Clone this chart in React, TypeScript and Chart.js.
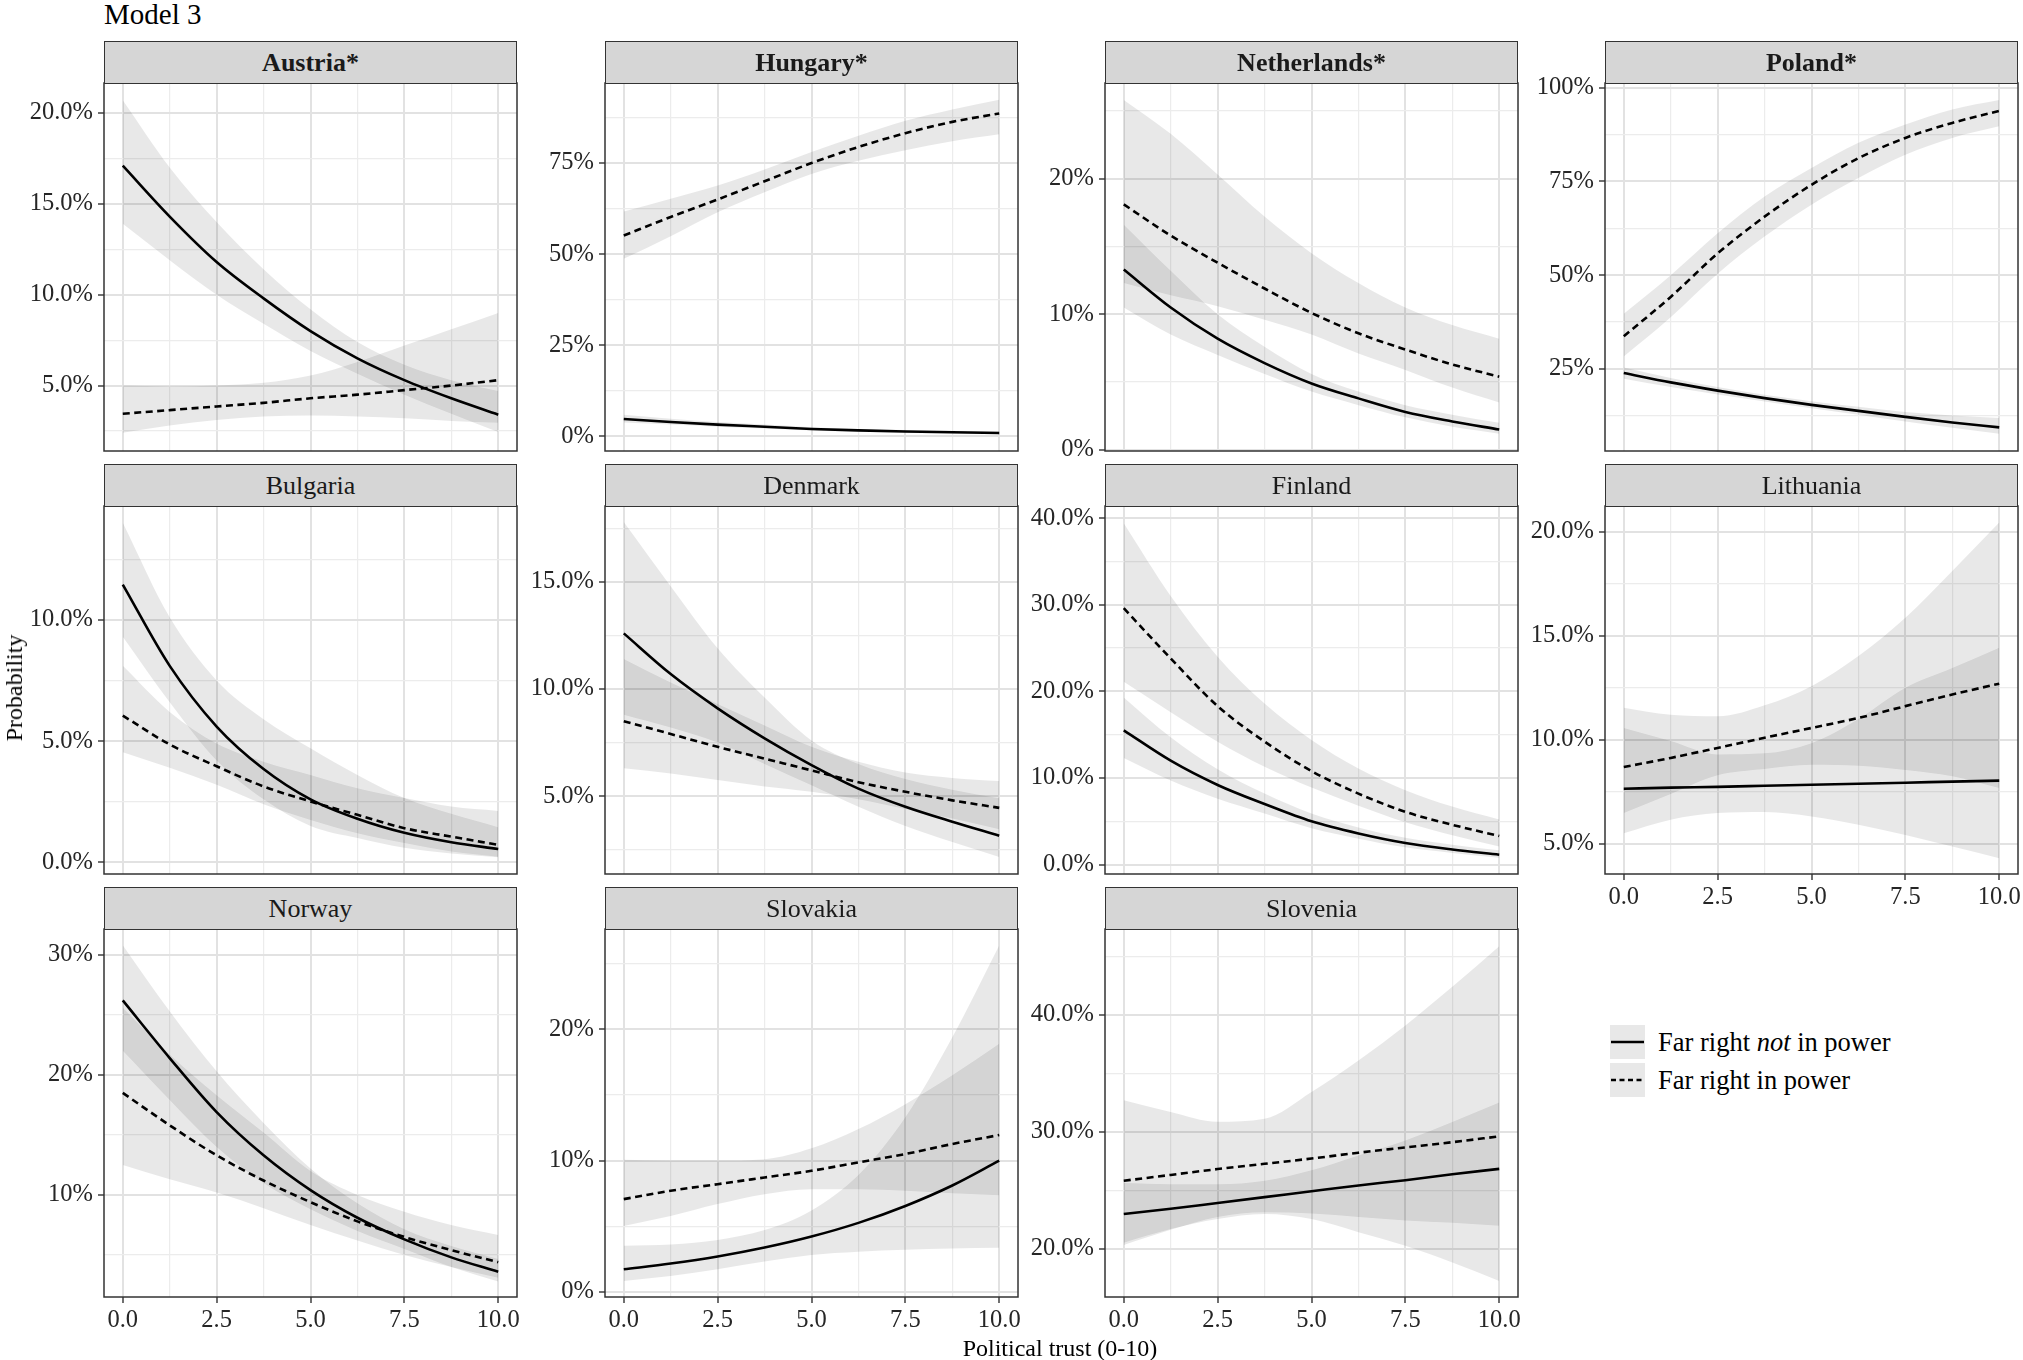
import React, { useEffect, useRef } from "react";
import { Chart, registerables } from "chart.js";
Chart.register(...registerables);

// ---------- data (probabilities in %) ----------
const trust = [0, 1.25, 2.5, 3.75, 5, 6.25, 7.5, 8.75, 10];
const xMajorTicks = [0, 2.5, 5, 7.5, 10];
const xTickLabels = ["0.0", "2.5", "5.0", "7.5", "10.0"];

const austriaTicks = [5, 10, 15, 20];
const austriaNotFit = [17.1, 14.3, 11.8, 9.8, 8.0, 6.5, 5.3, 4.3, 3.4];
const austriaNotLo = [13.9, 11.9, 10.0, 8.4, 6.9, 5.65, 4.5, 3.45, 2.45];
const austriaNotHi = [20.7, 17.0, 14.0, 11.4, 9.2, 7.4, 6.15, 5.3, 4.7];
const austriaInFit = [3.45, 3.65, 3.85, 4.05, 4.3, 4.5, 4.75, 5.0, 5.3];
const austriaInLo = [2.4, 2.8, 3.1, 3.3, 3.35, 3.3, 3.2, 3.05, 2.95];
const austriaInHi = [5.0, 4.95, 5.0, 5.15, 5.55, 6.3, 7.2, 8.1, 9.0];

const hungaryTicks = [0, 25, 50, 75];
const hungaryNotFit = [4.75, 3.9, 3.2, 2.6, 2.0, 1.6, 1.3, 1.1, 0.9];
const hungaryNotLo = [3.8, 3.2, 2.6, 2.1, 1.6, 1.25, 0.95, 0.75, 0.6];
const hungaryNotHi = [5.9, 4.8, 3.9, 3.2, 2.5, 2.0, 1.7, 1.5, 1.3];
const hungaryInFit = [55.1, 60.2, 65.0, 70.0, 75.0, 79.4, 83.2, 86.3, 88.6];
const hungaryInLo = [48.7, 54.9, 61.5, 67.0, 72.0, 75.6, 78.5, 81.0, 82.9];
const hungaryInHi = [61.7, 65.2, 68.8, 73.2, 78.0, 82.5, 86.6, 89.7, 92.4];

const netherlandsTicks = [0, 10, 20];
const netherlandsNotFit = [13.3, 10.5, 8.2, 6.4, 4.9, 3.8, 2.8, 2.1, 1.5];
const netherlandsNotLo = [10.5, 8.5, 7.0, 5.6, 4.3, 3.3, 2.4, 1.7, 1.2];
const netherlandsNotHi = [16.6, 13.2, 10.0, 7.6, 5.6, 4.3, 3.3, 2.6, 2.0];
const netherlandsInFit = [18.1, 15.8, 13.8, 11.9, 10.1, 8.6, 7.4, 6.3, 5.4];
const netherlandsInLo = [12.3, 11.4, 10.6, 9.6, 8.5, 7.1, 5.9, 4.6, 3.5];
const netherlandsInHi = [25.8, 23.3, 20.3, 17.2, 14.5, 12.3, 10.5, 9.2, 8.2];

const polandTicks = [25, 50, 75, 100];
const polandNotFit = [23.9, 21.4, 19.2, 17.2, 15.4, 13.8, 12.2, 10.7, 9.4];
const polandNotLo = [22.4, 20.2, 18.2, 16.3, 14.5, 12.8, 11.0, 9.3, 7.7];
const polandNotHi = [25.4, 22.6, 20.2, 18.1, 16.4, 14.9, 13.5, 12.6, 11.9];
const polandInFit = [33.7, 44.2, 55.8, 65.6, 74.1, 81.2, 86.6, 90.6, 93.8];
const polandInLo = [28.3, 38.8, 50.4, 60.3, 68.8, 75.9, 82.1, 86.6, 89.7];
const polandInHi = [39.7, 50.0, 61.2, 71.0, 78.6, 85.3, 90.2, 94.2, 96.7];

const bulgariaTicks = [0, 5, 10];
const bulgariaNotFit = [11.45, 8.1, 5.6, 3.85, 2.6, 1.8, 1.22, 0.83, 0.55];
const bulgariaNotLo = [9.3, 6.6, 4.2, 2.6, 1.5, 1.0, 0.6, 0.37, 0.21];
const bulgariaNotHi = [14.0, 10.1, 7.5, 5.9, 4.7, 3.6, 2.65, 2.0, 1.45];
const bulgariaInFit = [6.05, 4.86, 3.96, 3.13, 2.51, 1.96, 1.41, 1.06, 0.72];
const bulgariaInLo = [4.54, 3.9, 3.2, 2.4, 1.75, 1.2, 0.8, 0.45, 0.23];
const bulgariaInHi = [8.1, 6.2, 4.9, 4.15, 3.6, 3.05, 2.65, 2.3, 2.12];

const denmarkTicks = [5, 10, 15];
const denmarkNotFit = [12.6, 10.7, 9.1, 7.7, 6.45, 5.35, 4.5, 3.8, 3.15];
const denmarkNotLo = [8.8, 8.2, 7.5, 6.5, 5.5, 4.5, 3.6, 2.85, 2.15];
const denmarkNotHi = [17.8, 14.8, 11.9, 9.6, 7.6, 6.5, 5.8, 5.3, 4.9];
const denmarkInFit = [8.5, 7.9, 7.3, 6.75, 6.2, 5.65, 5.2, 4.8, 4.45];
const denmarkInLo = [6.3, 6.05, 5.75, 5.45, 5.2, 4.85, 4.4, 3.95, 3.45];
const denmarkInHi = [11.4, 10.3, 9.3, 8.3, 7.3, 6.6, 6.1, 5.85, 5.7];

const finlandTicks = [0, 10, 20, 30, 40];
const finlandNotFit = [15.5, 12.0, 9.2, 7.0, 5.0, 3.6, 2.5, 1.75, 1.15];
const finlandNotLo = [12.3, 9.7, 7.6, 5.9, 4.2, 3.0, 2.0, 1.35, 0.8];
const finlandNotHi = [19.3, 14.7, 11.0, 8.2, 5.9, 4.3, 3.1, 2.3, 1.65];
const finlandInFit = [29.6, 23.8, 18.3, 14.2, 10.8, 8.2, 6.1, 4.6, 3.3];
const finlandInLo = [21.1, 17.6, 14.2, 11.3, 8.9, 6.8, 4.9, 3.4, 2.1];
const finlandInHi = [39.4, 31.0, 24.0, 18.6, 14.4, 11.1, 8.6, 6.7, 5.2];

const lithuaniaTicks = [5, 10, 15, 20];
const lithuaniaNotFit = [7.65, 7.7, 7.74, 7.79, 7.84, 7.89, 7.94, 7.99, 8.04];
const lithuaniaNotLo = [5.51, 6.16, 6.48, 6.53, 6.32, 5.92, 5.43, 4.87, 4.31];
const lithuaniaNotHi = [10.57, 9.94, 9.3, 9.35, 9.84, 11.0, 12.5, 13.45, 14.43];
const lithuaniaInFit = [8.69, 9.13, 9.61, 10.1, 10.57, 11.05, 11.62, 12.18, 12.7];
const lithuaniaInLo = [6.48, 7.4, 8.3, 8.6, 8.8, 8.75, 8.55, 8.25, 7.68];
const lithuaniaInHi = [11.54, 11.2, 11.13, 11.66, 12.58, 14.03, 15.87, 18.12, 20.45];

const norwayTicks = [10, 20, 30];
const norwayNotFit = [26.2, 21.4, 16.9, 13.3, 10.4, 8.1, 6.3, 4.8, 3.6];
const norwayNotLo = [22.0, 17.9, 14.0, 11.0, 8.8, 7.0, 5.5, 4.0, 2.8];
const norwayNotHi = [30.8, 25.3, 20.3, 16.0, 12.2, 9.3, 7.15, 5.75, 4.67];
const norwayInFit = [18.5, 15.8, 13.3, 11.2, 9.4, 7.8, 6.5, 5.4, 4.4];
const norwayInLo = [12.5, 11.3, 10.2, 8.9, 7.5, 6.2, 5.0, 4.0, 3.1];
const norwayInHi = [25.6, 21.7, 18.3, 15.2, 12.0, 10.0, 8.6, 7.5, 6.67];

const slovakiaTicks = [0, 10, 20];
const slovakiaNotFit = [1.71, 2.15, 2.69, 3.37, 4.21, 5.25, 6.54, 8.1, 9.99];
const slovakiaNotLo = [0.82, 1.2, 1.71, 2.3, 2.8, 3.05, 3.2, 3.3, 3.36];
const slovakiaNotHi = [3.5, 3.6, 3.95, 4.7, 6.2, 8.9, 13.3, 19.4, 26.4];
const slovakiaInFit = [7.06, 7.7, 8.2, 8.71, 9.22, 9.86, 10.5, 11.26, 11.95];
const slovakiaInLo = [5.02, 5.78, 6.68, 7.44, 7.82, 7.82, 7.7, 7.5, 7.36];
const slovakiaInHi = [10.06, 10.0, 10.0, 10.1, 10.93, 12.4, 14.3, 16.5, 18.9];

const sloveniaTicks = [20, 30, 40];
const sloveniaNotFit = [22.95, 23.4, 23.9, 24.4, 24.9, 25.4, 25.85, 26.35, 26.82];
const sloveniaNotLo = [20.3, 21.6, 22.7, 23.1, 23.0, 22.7, 22.4, 22.2, 21.95];
const sloveniaNotHi = [25.6, 25.5, 25.5, 25.8, 26.7, 27.97, 29.25, 30.83, 32.5];
const sloveniaInFit = [25.8, 26.3, 26.8, 27.25, 27.7, 28.2, 28.65, 29.1, 29.6];
const sloveniaInLo = [20.5, 21.66, 22.52, 22.95, 22.52, 21.4, 20.23, 18.8, 17.22];
const sloveniaInHi = [32.69, 31.69, 30.85, 31.1, 33.4, 36.1, 39.1, 42.4, 45.87];

// ---------- panel table ----------
const panels = [
  { name: "Austria*", bold: true, row: 0, col: 0, yMin: 1.4, yMax: 21.65, yTicks: austriaTicks, dec: 1, xAxis: false,
    notFit: austriaNotFit, notLo: austriaNotLo, notHi: austriaNotHi, inFit: austriaInFit, inLo: austriaInLo, inHi: austriaInHi },
  { name: "Hungary*", bold: true, row: 0, col: 1, yMin: -4.05, yMax: 96.97, yTicks: hungaryTicks, dec: 0, xAxis: false,
    notFit: hungaryNotFit, notLo: hungaryNotLo, notHi: hungaryNotHi, inFit: hungaryInFit, inLo: hungaryInLo, inHi: hungaryInHi },
  { name: "Netherlands*", bold: true, row: 0, col: 2, yMin: -0.08, yMax: 27.05, yTicks: netherlandsTicks, dec: 0, xAxis: false,
    notFit: netherlandsNotFit, notLo: netherlandsNotLo, notHi: netherlandsNotHi, inFit: netherlandsInFit, inLo: netherlandsInLo, inHi: netherlandsInHi },
  { name: "Poland*", bold: true, row: 0, col: 3, yMin: 3.1, yMax: 101.25, yTicks: polandTicks, dec: 0, xAxis: false,
    notFit: polandNotFit, notLo: polandNotLo, notHi: polandNotHi, inFit: polandInFit, inLo: polandInLo, inHi: polandInHi },
  { name: "Bulgaria", bold: false, row: 1, col: 0, yMin: -0.48, yMax: 14.69, yTicks: bulgariaTicks, dec: 1, xAxis: false,
    notFit: bulgariaNotFit, notLo: bulgariaNotLo, notHi: bulgariaNotHi, inFit: bulgariaInFit, inLo: bulgariaInLo, inHi: bulgariaInHi },
  { name: "Denmark", bold: false, row: 1, col: 1, yMin: 1.36, yMax: 18.55, yTicks: denmarkTicks, dec: 1, xAxis: false,
    notFit: denmarkNotFit, notLo: denmarkNotLo, notHi: denmarkNotHi, inFit: denmarkInFit, inLo: denmarkInLo, inHi: denmarkInHi },
  { name: "Finland", bold: false, row: 1, col: 2, yMin: -1.08, yMax: 41.4, yTicks: finlandTicks, dec: 1, xAxis: false,
    notFit: finlandNotFit, notLo: finlandNotLo, notHi: finlandNotHi, inFit: finlandInFit, inLo: finlandInLo, inHi: finlandInHi },
  { name: "Lithuania", bold: false, row: 1, col: 3, yMin: 3.55, yMax: 21.24, yTicks: lithuaniaTicks, dec: 1, xAxis: true,
    notFit: lithuaniaNotFit, notLo: lithuaniaNotLo, notHi: lithuaniaNotHi, inFit: lithuaniaInFit, inLo: lithuaniaInLo, inHi: lithuaniaInHi },
  { name: "Norway", bold: false, row: 2, col: 0, yMin: 1.5, yMax: 32.15, yTicks: norwayTicks, dec: 0, xAxis: true,
    notFit: norwayNotFit, notLo: norwayNotLo, notHi: norwayNotHi, inFit: norwayInFit, inLo: norwayInLo, inHi: norwayInHi },
  { name: "Slovakia", bold: false, row: 2, col: 1, yMin: -0.4, yMax: 27.65, yTicks: slovakiaTicks, dec: 0, xAxis: true,
    notFit: slovakiaNotFit, notLo: slovakiaNotLo, notHi: slovakiaNotHi, inFit: slovakiaInFit, inLo: slovakiaInLo, inHi: slovakiaInHi },
  { name: "Slovenia", bold: false, row: 2, col: 2, yMin: 15.85, yMax: 47.35, yTicks: sloveniaTicks, dec: 1, xAxis: true,
    notFit: sloveniaNotFit, notLo: sloveniaNotLo, notHi: sloveniaNotHi, inFit: sloveniaInFit, inLo: sloveniaInLo, inHi: sloveniaInHi },
];

// ---------- layout / style ----------
const FONT = '"Liberation Serif", "Times New Roman", serif';
const COL_LEFT = [104, 605, 1105, 1605];
const ROW_TOP = [41, 464, 887];
const STRIP_H = 42;
const PLOT_W = 413;
const PLOT_H = 368;
const Y_AXIS_W = 88;
const X_AXIS_H = 40;
const PAD = 14;
const BAND = "rgba(0,0,0,0.09)";
const MAJOR_GRID = "#E2E2E2";
const MINOR_GRID = "#ECECEC";
const TEXT = "#262626";
const TICK_FONT = 24.5;

function makeTicks(majors: number[], min: number, max: number) {
  const step = majors[1] - majors[0];
  const out: any[] = [];
  const last = majors[majors.length - 1] + step / 2 + 1e-9;
  for (let v = majors[0] - step / 2; v <= last; v += step / 2) {
    if (v >= min && v <= max) {
      const isMinor = !majors.some((m) => Math.abs(m - v) < 1e-9);
      out.push({ value: v, isMinor });
    }
  }
  return out;
}

const frame = {
  id: "frame",
  afterDraw(chart: any) {
    const { ctx, chartArea: a } = chart;
    ctx.save();
    ctx.strokeStyle = "#333333";
    ctx.lineWidth = 1.5;
    ctx.strokeRect(a.left, a.top, a.right - a.left, a.bottom - a.top);
    ctx.restore();
  },
};

function gridOpts(drawTicks: boolean) {
  return {
    color: (c: any) => (c.tick && c.tick.isMinor ? MINOR_GRID : MAJOR_GRID),
    lineWidth: (c: any) => (c.tick && c.tick.isMinor ? 1.2 : 2),
    drawTicks,
    tickLength: 6,
    tickColor: (c: any) => (c.tick && c.tick.isMinor ? "rgba(0,0,0,0)" : "#333333"),
    tickWidth: 1.4,
  };
}

function PanelChart({ p }: { p: any }) {
  const ref = useRef<HTMLCanvasElement>(null);
  useEffect(() => {
    const pts = (arr: number[]) => trust.map((x, i) => ({ x, y: arr[i] }));
    const edge = {
      borderColor: "rgba(0,0,0,0)",
      borderWidth: 0,
      pointRadius: 0,
      cubicInterpolationMode: "monotone",
    };
    const chart = new Chart(ref.current as HTMLCanvasElement, {
      type: "line",
      data: {
        datasets: [
          { label: "Far right not in power", data: pts(p.notFit), borderColor: "#000", borderWidth: 2.6,
            pointRadius: 0, cubicInterpolationMode: "monotone", fill: false },
          { label: "Far right in power", data: pts(p.inFit), borderColor: "#000", borderWidth: 2.6, borderDash: [7, 4.5],
            pointRadius: 0, cubicInterpolationMode: "monotone", fill: false },
          { ...edge, data: pts(p.notLo), fill: false },
          { ...edge, data: pts(p.notHi), fill: 2, backgroundColor: BAND },
          { ...edge, data: pts(p.inLo), fill: false },
          { ...edge, data: pts(p.inHi), fill: 4, backgroundColor: BAND },
        ] as any,
      },
      options: {
        responsive: false,
        animation: false,
        events: [],
        layout: { padding: { top: PAD, right: PAD, bottom: p.xAxis ? 0 : PAD, left: 0 } },
        plugins: { legend: { display: false }, tooltip: { enabled: false } },
        scales: {
          x: {
            type: "linear",
            min: -0.5,
            max: 10.5,
            afterBuildTicks: (s: any) => { s.ticks = makeTicks(xMajorTicks, -0.5, 10.5); },
            afterFit: (s: any) => { s.height = p.xAxis ? X_AXIS_H : 0; s.paddingLeft = 0; s.paddingRight = 0; },
            grid: gridOpts(p.xAxis),
            border: { display: false },
            ticks: {
              display: p.xAxis,
              autoSkip: false,
              maxRotation: 0,
              padding: 3,
              color: TEXT,
              font: { family: FONT, size: TICK_FONT },
              callback: (v: any, i: number, t: any[]) =>
                t[i] && t[i].isMinor ? "" : xTickLabels[xMajorTicks.findIndex((m) => Math.abs(m - v) < 1e-9)],
            },
          },
          y: {
            type: "linear",
            min: p.yMin,
            max: p.yMax,
            afterBuildTicks: (s: any) => { s.ticks = makeTicks(p.yTicks, p.yMin, p.yMax); },
            afterFit: (s: any) => { s.width = Y_AXIS_W; s.paddingTop = 0; s.paddingBottom = 0; },
            grid: gridOpts(true),
            border: { display: false },
            ticks: {
              autoSkip: false,
              padding: 5,
              color: TEXT,
              font: { family: FONT, size: TICK_FONT },
              callback: (v: any, i: number, t: any[]) =>
                t[i] && t[i].isMinor ? "" : Number(v).toFixed(p.dec) + "%",
            },
          },
        } as any,
      },
      plugins: [frame],
    } as any);
    return () => chart.destroy();
  }, [p]);

  const left = COL_LEFT[p.col] - Y_AXIS_W;
  const plotTop = ROW_TOP[p.row] + STRIP_H;
  const w = Y_AXIS_W + PLOT_W + PAD;
  const h = PAD + PLOT_H + (p.xAxis ? X_AXIS_H : PAD);
  return (
    <>
      <canvas
        ref={ref}
        width={w}
        height={h}
        style={{ position: "absolute", left, top: plotTop - PAD, width: w, height: h }}
      />
      <div
        style={{
          position: "absolute",
          left: COL_LEFT[p.col],
          top: ROW_TOP[p.row],
          width: PLOT_W,
          height: STRIP_H + 1,
          boxSizing: "border-box",
          border: "1.5px solid #333",
          background: "#D6D6D6",
          display: "flex",
          alignItems: "center",
          justifyContent: "center",
          fontFamily: FONT,
          fontSize: 26,
          fontWeight: p.bold ? "bold" : "normal",
          color: "#1A1A1A",
          zIndex: 2,
        }}
      >
        {p.name}
      </div>
    </>
  );
}

function LegendKey({ top, dashed }: { top: number; dashed: boolean }) {
  return (
    <div style={{ position: "absolute", left: 1610, top, width: 35, height: 34, background: "#E8E8E8" }}>
      <svg width={35} height={34} style={{ position: "absolute", left: 0, top: 0 }}>
        <line x1={1} y1={17} x2={34} y2={17} stroke="#000" strokeWidth={2.6} strokeDasharray={dashed ? "5 3.5" : undefined} />
      </svg>
    </div>
  );
}

export default function App() {
  return (
    <div
      style={{
        position: "fixed",
        left: 0,
        top: 0,
        width: 2023,
        height: 1360,
        background: "#ffffff",
        fontFamily: FONT,
        color: "#000",
        overflow: "hidden",
      }}
    >
      <div style={{ position: "absolute", left: 104, top: 0, fontSize: 29, lineHeight: "29px", whiteSpace: "nowrap" }}>
        Model 3
      </div>
      {panels.map((p) => (
        <PanelChart key={p.name} p={p} />
      ))}
      <div
        style={{
          position: "absolute",
          left: 14,
          top: 688,
          fontSize: 24,
          lineHeight: "24px",
          whiteSpace: "nowrap",
          transform: "translate(-50%, -50%) rotate(-90deg)",
        }}
      >
        Probability
      </div>
      <div
        style={{
          position: "absolute",
          left: 1060,
          top: 1336,
          fontSize: 24,
          lineHeight: "24px",
          whiteSpace: "nowrap",
          transform: "translateX(-50%)",
        }}
      >
        Political trust (0-10)
      </div>
      <LegendKey top={1025} dashed={false} />
      <LegendKey top={1063} dashed={true} />
      <div style={{ position: "absolute", left: 1658, top: 1042, fontSize: 26.5, lineHeight: "30px", transform: "translateY(-50%)", whiteSpace: "nowrap" }}>
        Far right <i>not</i> in power
      </div>
      <div style={{ position: "absolute", left: 1658, top: 1080, fontSize: 26.5, lineHeight: "30px", transform: "translateY(-50%)", whiteSpace: "nowrap" }}>
        Far right in power
      </div>
    </div>
  );
}
